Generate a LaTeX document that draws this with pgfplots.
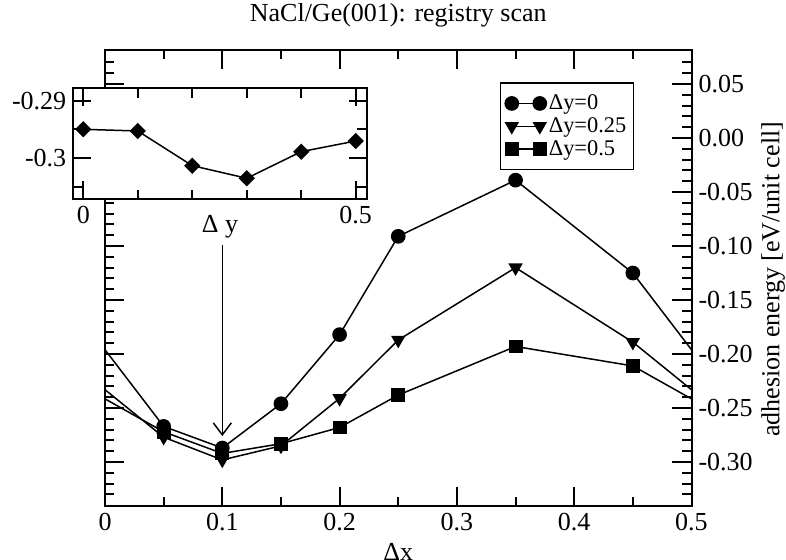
\documentclass[border=0pt]{standalone}
\usepackage{fontspec}
\setmainfont{Liberation Serif}
\usepackage{pgfplots}
\pgfplotsset{compat=1.18}
\usetikzlibrary{arrows.meta}

\pgfplotstableread{
x      a       b       c
-0.05  -0.125  -0.189  -0.211
0.05   -0.267  -0.277  -0.272
0.10   -0.287  -0.298  -0.292
0.15   -0.246  -0.285  -0.283
0.20   -0.182  -0.241  -0.268
0.25   -0.091  -0.187  -0.238
0.35   -0.039  -0.120  -0.193
0.45   -0.125  -0.189  -0.211
0.55   -0.267  -0.277  -0.272
}\scan

\pgfplotstableread{
dy    e
0.0   -0.29497
0.1   -0.29526
0.2   -0.30128
0.3   -0.30347
0.4   -0.29885
0.5   -0.29700
}\insetdata

\newcommand{\fs}{\fontsize{13}{15}\selectfont}
\newcommand{\fl}{\fontsize{11.2}{13}\selectfont}
\tikzset{tk/.style={black, line width=1pt, line cap=butt}}

\begin{document}
\begin{tikzpicture}
\begin{axis}[
  at={(52.5pt,26.5pt)}, anchor=south west,
  scale only axis, width=293.25pt, height=228pt,
  xmin=0, xmax=0.5, ymin=-0.3407, ymax=0.0815,
  axis line style={line width=1pt},
  tick align=inside,
  major tick length=9.5pt, minor tick length=4.7pt,
  every tick/.style={black, line width=1pt},
  xtick={0,0.1,0.2,0.3,0.4,0.5},
  xticklabels={0,0.1,0.2,0.3,0.4,0.5},
  minor x tick num=1,
  ytick={-0.3,-0.25,-0.2,-0.15,-0.1,-0.05,0,0.05},
  yticklabels={-0.30,-0.25,-0.20,-0.15,-0.10,-0.05,0.00,0.05},
  minor y tick num=4,
  yticklabel pos=right,
  tick label style={font=\fs},
  title={NaCl/Ge(001): registry scan},
  every axis title/.style={font=\fs, at={(0.5,1)}, anchor=base, yshift=14.5pt},
  xlabel={Δx},
  every axis x label/.style={font=\fs, at={(0.5,0)}, anchor=base, yshift=-27pt},
  ylabel={adhesion energy [eV/unit cell]},
  every axis y label/.style={font=\fs, at={(1.150,0.497)}, rotate=90, anchor=base},
  legend style={font=\fl, at={(0.9027,0.929)}, anchor=north east,
    draw=black, line width=0.6pt, inner xsep=2.5pt, inner ysep=4.5pt, row sep=0pt,
    nodes={inner sep=1.25pt}},
  legend cell align=left,
  legend image code/.code={\draw plot coordinates {(0pt,0pt) (14pt,0pt)};},
]
\addplot[black, line width=0.75pt, mark=*, mark size=3.3pt, mark options={solid, fill=black}] table[x=x,y=a] {\scan};
\addlegendentry{Δy=0}
\addplot[black, line width=0.75pt, mark=triangle*, mark size=3.4pt, mark options={solid, fill=black, rotate=180}] table[x=x,y=b] {\scan};
\addlegendentry{Δy=0.25}
\addplot[black, line width=0.75pt, mark=square*, mark size=3.1pt, mark options={solid, fill=black}] table[x=x,y=c] {\scan};
\addlegendentry{Δy=0.5}
\draw[-{Straight Barb[length=6pt,width=9pt]}, line width=0.75pt] (axis cs:0.1,-0.099) -- (axis cs:0.1,-0.276);
\end{axis}
% main axis tick marks as filled bars (x0=52.5pt, 586.5pt/unit; y0=26.5pt, 540.03pt/unit from -0.3407)
\foreach \v in {0.1,0.2,0.3,0.4}{
  \fill[black] ({(52.5+\v*586.5-0.5)*1pt},26.5pt) rectangle ++(1pt,9.5pt);
  \fill[black] ({(52.5+\v*586.5-0.5)*1pt},254.5pt) rectangle ++(1pt,-9.5pt);
}
\foreach \v in {0.05,0.15,0.25,0.35,0.45}{
  \fill[black] ({(52.5+\v*586.5-0.5)*1pt},26.5pt) rectangle ++(1pt,4.7pt);
  \fill[black] ({(52.5+\v*586.5-0.5)*1pt},254.5pt) rectangle ++(1pt,-4.7pt);
}
\foreach \v in {-0.3,-0.25,-0.2,-0.15,-0.1,-0.05,0,0.05}{
  \draw[tk] (52.5pt,{(26.5+(\v+0.3407)*540.03)*1pt}) -- ++(9.5pt,0pt);
  \draw[tk] (345.75pt,{(26.5+(\v+0.3407)*540.03)*1pt}) -- ++(-9.5pt,0pt);
}
\foreach \v in {-0.33,-0.32,-0.31,-0.29,-0.28,-0.27,-0.26,-0.24,-0.23,-0.22,-0.21,-0.19,-0.18,-0.17,-0.16,-0.14,-0.13,-0.12,-0.11,-0.09,-0.08,-0.07,-0.06,-0.04,-0.03,-0.02,-0.01,0.01,0.02,0.03,0.04,0.06,0.07}{
  \draw[tk] (52.5pt,{(26.5+(\v+0.3407)*540.03)*1pt}) -- ++(4.7pt,0pt);
  \draw[tk] (345.75pt,{(26.5+(\v+0.3407)*540.03)*1pt}) -- ++(-4.7pt,0pt);
}

\begin{axis}[
  at={(36.65pt,180pt)}, anchor=south west,
  scale only axis, width=146.7pt, height=55.35pt,
  xmin=-0.01836, xmax=0.5202, ymin=-0.30707, ymax=-0.28785,
  axis background/.style={fill=white},
  axis line style={line width=1pt},
  tick align=inside,
  major tick length=9pt, minor tick length=4.7pt,
  every tick/.style={black, line width=1pt},
  xtick={0,0.5}, xticklabels={0,0.5},
  minor xtick={0.1,0.2,0.3,0.4},
  ytick={-0.3,-0.29}, yticklabels={-0.3,-0.29},
  minor ytick={-0.305,-0.295},
  tick label style={font=\fs},
  xlabel={Δ y},
  every axis x label/.style={font=\fs, at={(0.5,-0.307)}, anchor=base},
]
\addplot[black, line width=0.75pt, mark=square*, mark size=2.5pt, mark options={solid, fill=black, rotate=45}] table[x=dy,y=e] {\insetdata};
\end{axis}
% inset tick marks (x0=36.65pt, 272.39pt/unit from -0.01836; y0=180pt, 2879.8pt/unit from -0.30707)
\foreach \v in {0,0.5}{
  \fill[black] ({(36.65+(\v+0.01836)*272.39-0.5)*1pt},180pt) rectangle ++(1pt,9pt);
  \fill[black] ({(36.65+(\v+0.01836)*272.39-0.5)*1pt},235.35pt) rectangle ++(1pt,-9pt);
}
\foreach \v in {0.1,0.2,0.3,0.4}{
  \fill[black] ({(36.65+(\v+0.01836)*272.39-0.5)*1pt},180pt) rectangle ++(1pt,4.7pt);
  \fill[black] ({(36.65+(\v+0.01836)*272.39-0.5)*1pt},235.35pt) rectangle ++(1pt,-4.7pt);
}
\foreach \v in {-0.3,-0.29}{
  \draw[tk] (36.65pt,{(180+(\v+0.30707)*2879.8)*1pt}) -- ++(9pt,0pt);
  \draw[tk] (183.35pt,{(180+(\v+0.30707)*2879.8)*1pt}) -- ++(-9pt,0pt);
}
\foreach \v in {-0.305,-0.295}{
  \draw[tk] (36.65pt,{(180+(\v+0.30707)*2879.8)*1pt}) -- ++(4.7pt,0pt);
  \draw[tk] (183.35pt,{(180+(\v+0.30707)*2879.8)*1pt}) -- ++(-4.7pt,0pt);
}
\pgfresetboundingbox
\useasboundingbox (0,0) rectangle (393pt,279.5pt);
\end{tikzpicture}
\end{document}
